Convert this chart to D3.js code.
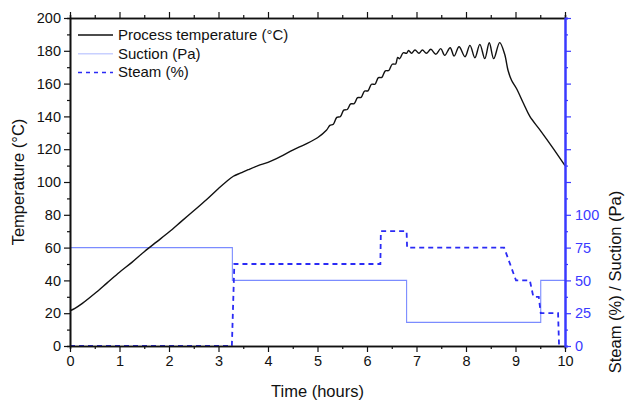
<!DOCTYPE html>
<html>
<head>
<meta charset="utf-8">
<script src="https://cdn.jsdelivr.net/npm/d3@7"></script>
<style>
  body { margin: 0; background: #fff; }
  text { font-family: "Liberation Sans", Arial, sans-serif; }
</style>
</head>
<body>
<div id="chart"></div>
<script>
// process temperature (°C) vs time (h)
var tempTime = [0, 0.1, 0.25, 0.5, 0.75, 1, 1.25, 1.5, 1.75, 2, 2.25, 2.5, 2.75, 3, 3.15, 3.3,
    3.45, 3.6, 3.8, 4, 4.25, 4.5, 4.75, 5, 5.18,
    5.25, 5.32, 5.39, 5.46, 5.53, 5.6, 5.67, 5.74, 5.81, 5.88, 5.95, 6.02, 6.09, 6.16, 6.23, 6.3,
    6.37, 6.44, 6.51, 6.58, 6.62, 6.66, 6.73, 6.8,
    6.84, 6.9, 6.97, 7.05, 7.12, 7.2, 7.29, 7.39, 7.49, 7.57, 7.68, 7.76, 7.86, 7.98, 8.08, 8.18,
    8.28, 8.38, 8.47, 8.56, 8.68, 8.78, 8.85, 8.92, 9.02, 9.16, 9.29, 9.5, 9.75, 10];
var tempValue = [21.5, 23, 26, 32, 38.5, 45, 51, 57.5, 63.5, 69.5, 76, 82.5, 89, 96, 100, 103.5,
    105.5, 107.5, 110, 112, 115.5, 119.5, 123, 127, 131.5,
    134.5, 135.2, 139.4, 139.8, 143.8, 144.2, 147.6, 147.8, 151.4, 151.6, 155.4, 155.6, 159.6, 159.6, 163.6, 163.8,
    167.8, 168, 171.8, 172, 176, 175.2, 178.8, 178.5,
    180.2, 178.5, 180.5, 178.5, 180.5, 178.5, 180.9, 177.9, 181.3, 177.2, 181.9, 176.8, 182.5, 176.4, 183.3, 175.8,
    183.9, 175.2, 184.9, 175.2, 185, 178, 168, 162, 157, 148, 140, 131.5, 121, 110];

// suction (Pa) and steam (%) on the right axis
var suctionTime = [0, 3.28, 3.28, 6.8, 6.8, 9.51, 9.51, 10];
var suctionValue = [75, 75, 50, 50, 18, 18, 50, 50];
var steamTime = [0, 3.27, 3.32, 6.27, 6.28, 6.8, 6.81, 8.77, 9.01, 9.29, 9.36, 9.47, 9.51, 9.86, 9.88];
var steamValue = [0, 0, 62.5, 62.5, 87.5, 87.5, 75, 75, 50, 50, 37.5, 37.5, 25, 25, 0];

var xTicks = [0, 1, 2, 3, 4, 5, 6, 7, 8, 9, 10];
var yLeftTicks = [0, 20, 40, 60, 80, 100, 120, 140, 160, 180, 200];
var yRightTicks = [0, 25, 50, 75, 100];

var legendLabels = ["Process temperature (°C)", "Suction (Pa)", "Steam (%)"];

var width = 627, height = 405;
var margin = {top: 18, right: 62, bottom: 59, left: 70};
var blue = "#2b2bf5", lightBlue = "#7b8cff", axisBlue = "#3a3aff";

var svg = d3.select("#chart").append("svg")
    .attr("width", width).attr("height", height);

var x = d3.scaleLinear().domain([0, 10]).range([margin.left, width - margin.right]);
var y = d3.scaleLinear().domain([0, 200]).range([height - margin.bottom, margin.top]);
var y2 = d3.scaleLinear().domain([0, 250]).range([height - margin.bottom, margin.top]);

var tempData = tempTime.map((t, i) => [t, tempValue[i]]);
var suctionData = suctionTime.map((t, i) => [t, suctionValue[i]]);
var steamData = steamTime.map((t, i) => [t, steamValue[i]]);

// lines
svg.append("path")
    .datum(suctionData)
    .attr("fill", "none").attr("stroke", lightBlue).attr("stroke-width", 1.1)
    .attr("d", d3.line().x(d => x(d[0])).y(d => y2(d[1])));

svg.append("path")
    .datum(steamData)
    .attr("fill", "none").attr("stroke", blue).attr("stroke-width", 1.8)
    .attr("stroke-dasharray", "5,4")
    .attr("d", d3.line().x(d => x(d[0])).y(d => y2(d[1])));

svg.append("path")
    .datum(tempData)
    .attr("fill", "none").attr("stroke", "#111").attr("stroke-width", 1.4)
    .attr("stroke-linejoin", "round")
    .attr("d", d3.line().curve(d3.curveCatmullRom.alpha(0.5)).x(d => x(d[0])).y(d => y(d[1])));

// axes
function styleAxis(g, color) {
    g.selectAll("path").attr("stroke", color).attr("stroke-width", 1.6);
    g.selectAll("line").attr("stroke", color).attr("stroke-width", 1.2);
    g.selectAll("text").attr("fill", color).style("font-size", "14.5px");
}

var xMinor = d3.range(0.5, 10, 1);
var yMinor = d3.range(10, 200, 20);
var y2Minor = d3.range(12.5, 250, 25);
var y2Major = d3.range(0, 251, 25);

// bottom
var gb = svg.append("g").attr("transform", "translate(0," + y(0) + ")");
gb.call(d3.axisBottom(x).tickValues(xTicks).tickSize(6).tickSizeOuter(0).tickPadding(4));
gb.append("g").call(d3.axisBottom(x).tickValues(xMinor).tickSize(3).tickFormat(""));
styleAxis(gb, "#111");

// top
var gt = svg.append("g").attr("transform", "translate(0," + y(200) + ")");
gt.call(d3.axisTop(x).tickValues(xTicks).tickSize(6).tickSizeOuter(0).tickFormat(""));
gt.append("g").call(d3.axisTop(x).tickValues(xMinor).tickSize(3).tickFormat(""));
styleAxis(gt, "#111");

// left
var gl = svg.append("g").attr("transform", "translate(" + x(0) + ",0)");
gl.call(d3.axisLeft(y).tickValues(yLeftTicks).tickSize(6).tickSizeOuter(0).tickPadding(3));
gl.append("g").call(d3.axisLeft(y).tickValues(yMinor).tickSize(3).tickFormat(""));
styleAxis(gl, "#111");

// right
var gr = svg.append("g").attr("transform", "translate(" + x(10) + ",0)");
gr.call(d3.axisRight(y2).tickValues(y2Major).tickSize(6).tickSizeOuter(0).tickPadding(4)
    .tickFormat(d => yRightTicks.includes(d) ? d : ""));
gr.append("g").call(d3.axisRight(y2).tickValues(y2Minor).tickSize(3).tickFormat(""));
styleAxis(gr, axisBlue);
gr.selectAll(".domain").attr("stroke-width", 2);

// axis titles
svg.append("text")
    .attr("x", x(5)).attr("y", 397)
    .attr("text-anchor", "middle").style("font-size", "16.5px").attr("fill", "#111")
    .text("Time (hours)");

svg.append("text")
    .attr("transform", "translate(24," + 182 + ") rotate(-90)")
    .attr("text-anchor", "middle").style("font-size", "16.5px").attr("fill", "#111")
    .text("Temperature (°C)");

svg.append("text")
    .attr("transform", "translate(621," + 282 + ") rotate(-90)")
    .attr("text-anchor", "middle").style("font-size", "16.5px").attr("fill", "#111")
    .text("Steam (%) / Suction (Pa)");

// legend
var legend = svg.append("g");
var legendStyles = [
    {stroke: "#111", width: 1.3, dash: null},
    {stroke: "#c8d0ff", width: 1.6, dash: null},
    {stroke: blue, width: 1.5, dash: "4,4"}
];
legendLabels.forEach(function (lab, i) {
    var yy = 35 + i * 18.7;
    legend.append("line")
        .attr("x1", 78).attr("x2", 113).attr("y1", yy).attr("y2", yy)
        .attr("stroke", legendStyles[i].stroke)
        .attr("stroke-width", legendStyles[i].width)
        .attr("stroke-dasharray", legendStyles[i].dash);
    legend.append("text")
        .attr("x", 118).attr("y", yy + 5)
        .style("font-size", "15px").attr("fill", "#111")
        .text(lab);
});
</script>
</body>
</html>
